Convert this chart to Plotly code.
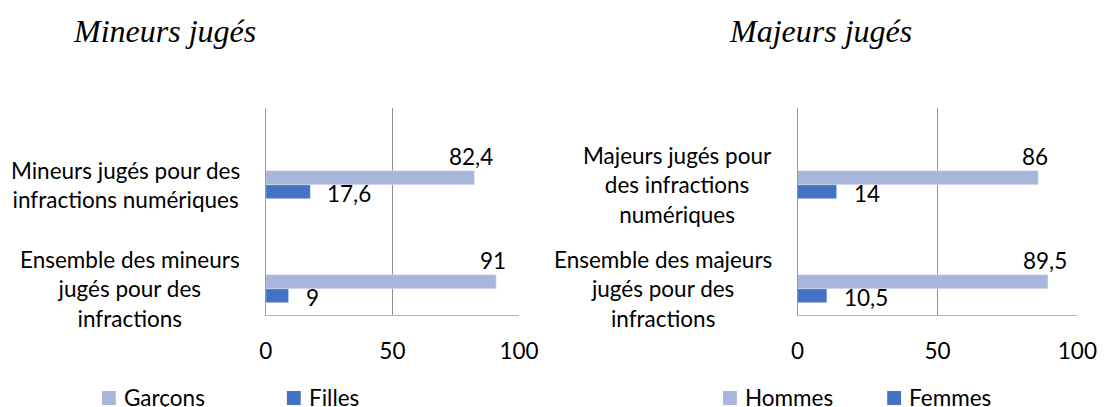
import plotly.graph_objects as go

W, H = 1105, 407
WE = 1090  # effective horizontal extent observed in the rendered picture

# ---- data ----
mineurs_categories = ["Mineurs jugés pour des<br>infractions numériques",
                      "Ensemble des mineurs<br>jugés pour des<br>infractions"]
garcons = [82.4, 91]
filles = [17.6, 9]

majeurs_categories = ["Majeurs jugés pour<br>des infractions<br>numériques",
                      "Ensemble des majeurs<br>jugés pour des<br>infractions"]
hommes = [86, 89.5]
femmes = [14, 10.5]

x_ticks = [0, 50, 100]
titles = ["Mineurs jugés", "Majeurs jugés"]
legend_left = ["Garçons", "Filles"]
legend_right = ["Hommes", "Femmes"]

LIGHT = "#A9B6DB"
DARK = "#4472C4"
FONT = "Lato"
FS = 22.5


def fmt(v):
    return f"{v:g}".replace(".", ",")


def px(x):
    return x / WE


def py(y):
    return 1 - y / H


fig = go.Figure()

panels = [
    ("x", "y", mineurs_categories, garcons, filles, legend_left),
    ("x2", "y2", majeurs_categories, hommes, femmes, legend_right),
]

annotations = []
for xa, ya, cats, light_vals, dark_vals, names in panels:
    fig.add_trace(go.Bar(y=cats, x=light_vals, orientation="h", name=names[0],
                         marker=dict(color=LIGHT), xaxis=xa, yaxis=ya,
                         showlegend=False, hoverinfo="x+name"))
    fig.add_trace(go.Bar(y=cats, x=dark_vals, orientation="h", name=names[1],
                         marker=dict(color=DARK), xaxis=xa, yaxis=ya,
                         showlegend=False, hoverinfo="x+name"))
    for c, lv, dv in zip(cats, light_vals, dark_vals):
        # category label
        annotations.append(dict(x=0, y=c, xref=xa, yref=ya, text=c, showarrow=False,
                                xanchor="right", yanchor="middle", align="center",
                                xshift=-24, font=dict(family=FONT, size=FS, color="black")))
        # light bar value (above bar end)
        annotations.append(dict(x=lv, y=c, xref=xa, yref=ya, text=fmt(lv), showarrow=False,
                                xanchor="center", yanchor="middle", xshift=-3, yshift=28,
                                font=dict(family=FONT, size=FS, color="black")))
        # dark bar value (right of bar end)
        annotations.append(dict(x=dv, y=c, xref=xa, yref=ya, text=fmt(dv), showarrow=False,
                                xanchor="left", yanchor="middle", xshift=15, yshift=-9,
                                font=dict(family=FONT, size=FS, color="black")))

# titles
for t, cx in zip(titles, [159, 823]):
    annotations.append(dict(x=px(cx), y=py(31), xref="paper", yref="paper", text=t,
                            showarrow=False, xanchor="center", yanchor="middle",
                            font=dict(family="Liberation Serif", size=32, color="black",
                                      style="italic")))

# manual legends
shapes = []
legend_items = [
    (legend_left[0], LIGHT, 96), (legend_left[1], DARK, 283),
    (legend_right[0], LIGHT, 724), (legend_right[1], DARK, 890),
]
for name, col, sx in legend_items:
    shapes.append(dict(type="rect", xref="paper", yref="paper",
                       x0=px(sx), x1=px(sx + 14), y0=py(405), y1=py(391),
                       fillcolor=col, line=dict(width=0)))
    annotations.append(dict(x=px(sx + 20), y=py(397), xref="paper", yref="paper", text=name,
                            showarrow=False, xanchor="left", yanchor="middle",
                            font=dict(family=FONT, size=FS, color="black")))

yrange = [1.248, -0.7375]
ydom = [py(314.5), py(108)]

axis_common_x = dict(range=[0, 100], tickvals=x_ticks, showgrid=True, gridcolor="#8f8f8f",
                     gridwidth=1, showline=True, linecolor="#b3b3b3", linewidth=1,
                     zeroline=False, ticks="", ticklabelstandoff=16,
                     tickfont=dict(family=FONT, size=FS, color="black"), fixedrange=True)
axis_common_y = dict(range=yrange, showticklabels=False, showgrid=False, showline=True,
                     linecolor="#999999", linewidth=1, zeroline=False, ticks="",
                     type="category", fixedrange=True)

fig.update_layout(
    width=W, height=H, autosize=False,
    margin=dict(l=0, r=0, t=0, b=0),
    paper_bgcolor="white", plot_bgcolor="white",
    barmode="group", bargap=0.73, bargroupgap=0,
    xaxis=dict(domain=[px(261.7), px(517.7)], anchor="y", **axis_common_x),
    yaxis=dict(domain=ydom, anchor="x", **axis_common_y),
    xaxis2=dict(domain=[px(799.3), px(1082.3)], anchor="y2", **axis_common_x),
    yaxis2=dict(domain=ydom, anchor="x2", **axis_common_y),
    annotations=annotations,
    shapes=shapes,
    showlegend=False,
)

post = (
    "document.documentElement.style.overflow='hidden';"
    "document.body.style.margin='0';"
    "document.body.style.overflow='hidden';"
)

fig.write_html("out.html",
               config={"displayModeBar": False, "responsive": False},
               post_script=post)
